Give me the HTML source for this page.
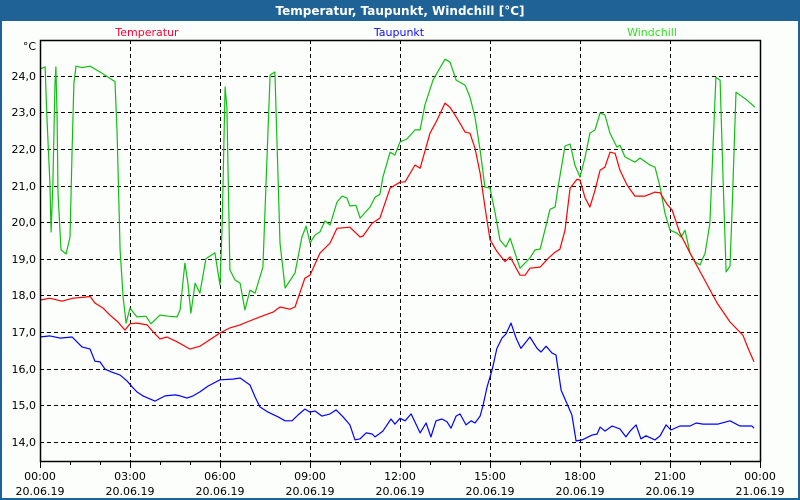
<!DOCTYPE html>
<html><head><meta charset="utf-8"><style>
html,body{margin:0;padding:0;width:800px;height:500px;overflow:hidden;background:#1f6396}
#win{position:absolute;left:0;top:0;width:800px;height:500px;background:#1f6396}
#inner{position:absolute;left:2px;top:21px;width:796px;height:477px;background:#fcfefc}
svg{position:absolute;left:0;top:0}
text{font-family:"DejaVu Sans","Liberation Sans",sans-serif;font-size:11px}
</style></head><body>
<div id="win">
<div id="inner"></div>
<svg id="chart" width="800" height="500">
<text x="400" y="15" text-anchor="middle" fill="#fff" font-weight="bold" style="font-size:12px">Temperatur, Taupunkt, Windchill [°C]</text>
<text x="147" y="36" text-anchor="middle" fill="#ff0030">Temperatur</text>
<text x="399" y="36" text-anchor="middle" fill="#1010ff">Taupunkt</text>
<text x="652" y="36" text-anchor="middle" fill="#30e020">Windchill</text>
<text x="36" y="50" text-anchor="end" fill="#000">°C</text>
<g id="grid"></g><g id="series"></g><g id="axes"></g>
</svg>
</div>
<script>
const tempT=[0,.33,.73,1.1,1.5,1.67,1.83,2.1,2.33,2.6,2.83,3.0,3.23,3.57,3.77,4.0,4.23,4.57,5.0,5.33,6.0,6.33,6.67,6.9,7.33,7.77,8.0,8.33,8.5,8.83,9.0,9.33,9.67,9.9,10.33,10.67,10.77,11.07,11.33,11.67,12.0,12.17,12.5,12.67,13.0,13.23,13.5,13.67,13.9,14.17,14.33,14.5,14.67,14.83,15.0,15.23,15.5,15.67,16.0,16.17,16.33,16.67,16.93,17.17,17.33,17.5,17.67,17.9,18.0,18.17,18.33,18.5,18.67,18.83,19.0,19.17,19.33,19.57,19.83,20.17,20.5,20.67,20.9,21.07,21.33,21.67,22.1,22.57,23.0,23.43,23.6,23.8];
const tempV=[17.87,17.92,17.84,17.92,17.95,17.97,17.79,17.65,17.46,17.27,17.05,17.22,17.24,17.19,17.0,16.81,16.86,16.73,16.53,16.61,16.97,17.11,17.19,17.27,17.41,17.54,17.68,17.62,17.68,18.47,18.55,19.15,19.43,19.83,19.86,19.59,19.62,19.97,20.11,20.93,21.09,21.1,21.56,21.47,22.43,22.78,23.25,23.13,22.84,22.46,22.43,22.02,21.34,20.42,19.52,19.2,18.92,19.05,18.55,18.55,18.74,18.77,19.0,19.18,19.26,19.78,20.93,21.17,21.15,20.66,20.41,20.87,21.42,21.5,21.91,21.88,21.42,21.01,20.71,20.71,20.82,20.8,20.49,20.33,19.7,19.15,18.5,17.79,17.27,16.91,16.56,16.18];
const windT=[0,.17,.23,.33,.37,.43,.5,.53,.57,.6,.7,.87,1.0,1.07,1.13,1.2,1.4,1.67,2.0,2.5,2.57,2.67,2.77,2.87,3.0,3.23,3.53,3.7,4.0,4.27,4.57,4.67,4.83,4.93,5.03,5.17,5.33,5.53,5.83,6.0,6.07,6.17,6.23,6.33,6.5,6.67,6.83,7.0,7.17,7.43,7.67,7.83,8.0,8.17,8.5,8.73,8.87,9.0,9.17,9.33,9.5,9.67,9.9,10.07,10.23,10.33,10.53,10.67,11.0,11.17,11.33,11.43,11.67,11.83,12.0,12.23,12.5,12.67,12.83,13.1,13.5,13.67,13.87,14.17,14.33,14.5,14.67,14.83,15.0,15.17,15.33,15.53,15.67,16.0,16.33,16.5,16.67,16.83,17.0,17.17,17.27,17.5,17.67,17.83,18.0,18.17,18.33,18.5,18.67,18.83,19.0,19.23,19.33,19.5,19.83,20.0,20.33,20.5,20.67,20.83,21.0,21.23,21.37,21.5,21.67,21.83,22.0,22.17,22.33,22.43,22.53,22.67,22.77,22.87,23.0,23.07,23.2,23.57,23.83];
const windV=[24.18,24.24,22.87,21.07,19.73,21.07,23.8,24.24,22.87,20.79,19.24,19.13,19.59,21.97,23.8,24.26,24.22,24.26,24.1,23.84,22.43,19.24,17.95,17.24,17.65,17.41,17.43,17.22,17.46,17.43,17.41,17.6,18.88,18.33,17.51,18.33,18.06,19.0,19.16,18.28,19.86,23.69,23.14,18.69,18.42,18.33,17.6,18.14,18.06,18.77,24.02,24.1,19.43,18.2,18.61,19.59,19.89,19.43,19.65,19.73,20.03,19.92,20.55,20.71,20.66,20.44,20.46,20.11,20.41,20.68,20.76,21.23,21.91,21.83,22.19,22.27,22.52,22.52,23.2,23.88,24.45,24.37,23.88,23.74,23.42,22.87,21.97,20.96,20.93,20.25,19.51,19.32,19.56,18.74,19.02,19.24,19.26,19.78,20.35,20.41,20.96,22.08,22.13,21.56,21.23,21.78,22.43,22.52,22.98,22.93,22.43,22.05,22.1,21.78,21.64,21.75,21.56,21.5,20.96,20.25,19.78,19.7,19.59,19.78,19.15,18.92,18.83,19.15,19.97,21.97,23.96,23.88,21.15,18.64,18.8,20.33,23.55,23.33,23.14];
const dewT=[0,.33,.67,1.07,1.23,1.4,1.67,1.83,2.0,2.17,2.4,2.67,2.9,3.07,3.23,3.43,3.83,4.17,4.5,4.67,4.9,5.1,5.33,5.6,6.0,6.43,6.67,7.0,7.17,7.33,7.6,7.93,8.17,8.4,8.6,8.83,9.0,9.17,9.4,9.67,9.87,10.1,10.33,10.5,10.67,10.87,11.07,11.17,11.43,11.7,11.83,12.0,12.17,12.37,12.67,12.87,13.03,13.2,13.4,13.57,13.7,13.87,14.0,14.2,14.37,14.5,14.67,14.77,14.9,15.07,15.23,15.4,15.53,15.7,15.87,16.03,16.33,16.57,16.7,16.87,17.07,17.2,17.37,17.57,17.73,17.87,18.07,18.4,18.57,18.67,18.83,19.07,19.33,19.53,19.67,19.87,20.03,20.2,20.5,20.67,20.87,21.03,21.33,21.67,21.87,22.1,22.6,23.0,23.33,23.73,23.8];
const dewV=[16.86,16.89,16.83,16.86,16.73,16.59,16.53,16.2,16.18,15.98,15.9,15.82,15.66,15.5,15.36,15.25,15.11,15.25,15.28,15.25,15.19,15.25,15.36,15.52,15.69,15.71,15.74,15.55,15.22,14.95,14.81,14.68,14.57,14.57,14.73,14.89,14.81,14.84,14.7,14.76,14.87,14.68,14.46,14.05,14.08,14.24,14.21,14.13,14.29,14.62,14.48,14.64,14.57,14.76,14.24,14.51,14.13,14.57,14.62,14.54,14.37,14.7,14.76,14.46,14.57,14.51,14.7,15.0,15.49,15.96,16.55,16.83,16.94,17.24,16.83,16.55,16.86,16.55,16.45,16.61,16.42,16.37,15.41,15.03,14.73,14.02,14.05,14.18,14.21,14.4,14.29,14.43,14.35,14.13,14.29,14.46,14.08,14.16,14.05,14.16,14.46,14.32,14.43,14.43,14.51,14.48,14.48,14.57,14.43,14.43,14.37];
const yTicks=[14,15,16,17,18,19,20,21,22,23,24];
const xTickHours=[0,3,6,9,12,15,18,21,24];
const xTimeLabels=["00:00","03:00","06:00","09:00","12:00","15:00","18:00","21:00","00:00"];
const xDateLabels=["20.06.19","20.06.19","20.06.19","20.06.19","20.06.19","20.06.19","20.06.19","20.06.19","21.06.19"];

const X0=40,X1=760,Y0=40,Y1=461;
const xs=h=>X0+h*(X1-X0)/24;
const ys=v=>441.7-(v-14)*36.6;
const NS="http://www.w3.org/2000/svg";
function mk(tag,attrs,parent){const e=document.createElementNS(NS,tag);for(const k in attrs)e.setAttribute(k,attrs[k]);parent.appendChild(e);return e;}
const grid=document.getElementById('grid'),axes=document.getElementById('axes'),ser=document.getElementById('series');
yTicks.forEach(v=>{
  const l=mk('line',{x1:X0,x2:X1,y1:Math.round(ys(v))+.5,y2:Math.round(ys(v))+.5,stroke:'#000','stroke-dasharray':'4,3'},grid);
  
  
  const t=mk('text',{x:36,y:Math.round(ys(v))+4,'text-anchor':'end',fill:'#000'},axes);
  t.textContent=v.toFixed(1).replace('.',',');
  
  
});
xTickHours.forEach((h,i)=>{
  const x=Math.round(xs(h))+.5;
  if(h>0&&h<24){const l=mk('line',{x1:x,x2:x,y1:Y0,y2:Y1,stroke:'#000','stroke-dasharray':'4,3'},grid);
  
  }
  const t1=mk('text',{x:xs(h),y:480,'text-anchor':'middle',fill:'#000'},axes);t1.textContent=xTimeLabels[i];
  
  
  const t2=mk('text',{x:xs(h),y:495,'text-anchor':'middle',fill:'#000'},axes);t2.textContent=xDateLabels[i];
  
  
});
for(let h=0;h<=24;h++){const x=Math.round(xs(h))+.5;const l=mk('line',{x1:x,x2:x,y1:Y1,y2:Y1+(h%3==0?7:4),stroke:'#000'},axes);
  
  }
const fr=mk('path',{d:`M${X0+.5},${Y0+.5}H${X1+.5}V${Y1+.5}H${X0+.5}Z`,fill:'none',stroke:'#000','stroke-width':1.5},axes);


function line(T,V,color,name){
  const d=T.map((h,i)=>(i?'L':'M')+xs(h).toFixed(1)+','+ys(V[i]).toFixed(1)).join('');
  const p=mk('path',{d:d,fill:'none',stroke:color,'stroke-width':1.2,'stroke-linejoin':'round'},ser);
  
  
}
line(windT,windV,'#10c010','series-windchill');
line(tempT,tempV,'#ff0000','series-temperatur');
line(dewT,dewV,'#0000ff','series-taupunkt');
</script>
</body></html>
